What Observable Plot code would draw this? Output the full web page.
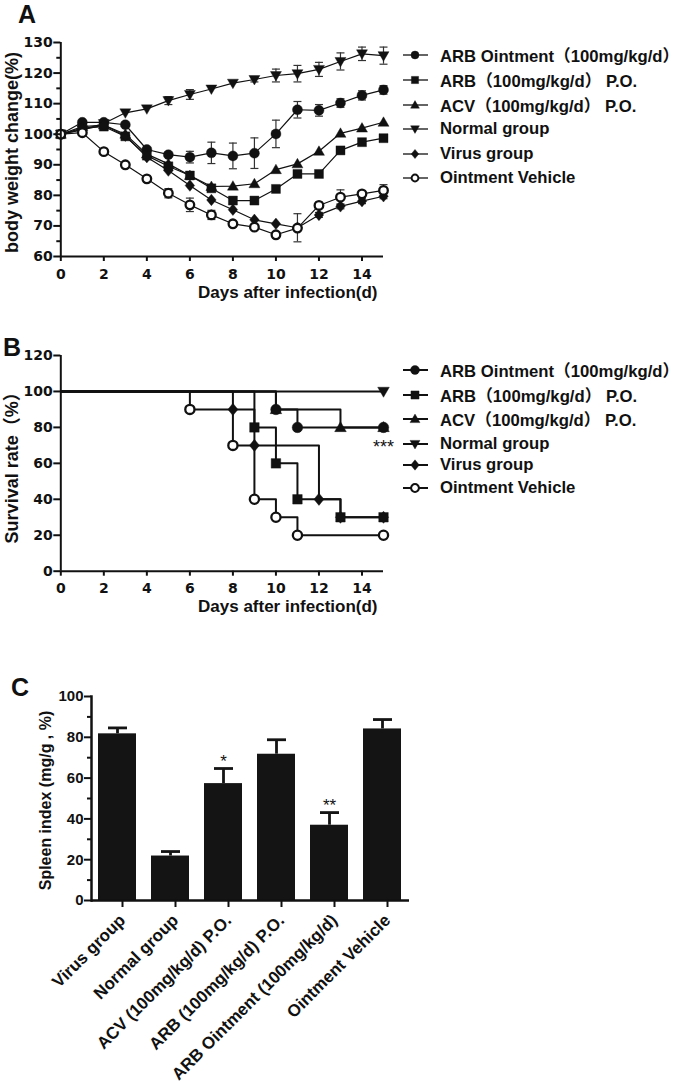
<!DOCTYPE html>
<html>
<head>
<meta charset="utf-8">
<script src="https://cdn.jsdelivr.net/npm/d3@7"></script>
<script src="https://cdn.jsdelivr.net/npm/@observablehq/plot@0.6"></script>
<style>
  html,body{margin:0;padding:0;background:#fff;}
  #root{position:relative;width:681px;height:1088px;overflow:hidden;background:#fff;
    font-family:"Liberation Sans",Arial,"Noto Sans CJK SC",sans-serif;font-weight:bold;color:#111;}
  .panel{position:absolute;left:0;}
  .letter{position:absolute;font-size:25px;line-height:25px;}
  .legrow{position:absolute;left:400px;width:281px;height:20px;display:flex;align-items:center;white-space:nowrap;font-size:16.7px;}
  .legrow svg{width:32px;height:20px;flex:none;margin-right:8px;}
</style>
</head>
<body>
<div id="root"></div>
<script>
// ---------------- DATA ----------------
const groupLabels = ["ARB Ointment（100mg/kg/d）", "ARB（100mg/kg/d） P.O.", "ACV（100mg/kg/d） P.O.", "Normal group", "Virus group", "Ointment Vehicle"];
const groupKeys = ["arbOint", "arbPO", "acv", "normal", "virus", "vehicle"];

// Panel A: body weight change (%)
const daysA = [0, 1, 2, 3, 4, 5, 6, 7, 8, 9, 10, 11, 12, 13, 14, 15];
const wArbOint = [100, 103.9, 103.9, 103.1, 95, 93.3, 92.5, 93.9, 92.9, 93.8, 100.1, 108, 107.8, 110.2, 112.7, 114.5];
const wArbPO   = [100, 102, 102.5, 99.3, 93, 89.5, 86.5, 82.3, 78.3, 78.3, 82.1, 87, 87, 94.7, 97.4, 98.7];
const wAcv     = [100, 102.5, 103, 100, 93.5, 90.3, 86.5, 82.9, 83, 83.8, 88.4, 90.3, 94.4, 100.3, 102, 103.9];
const wNormal  = [100, 101.5, 103.5, 107, 108.3, 111, 113, 114.8, 116.7, 117.9, 119.2, 119.8, 121.2, 123.8, 126.3, 125.7];
const wVirus   = [100, 101.5, 103, 99.5, 92.5, 88.1, 83.2, 78.5, 75.3, 72, 70.7, 69.4, 73.6, 76.4, 78.1, 79.7];
const wVehicle = [100, 100.5, 94.3, 90, 85.4, 80.7, 76.9, 73.6, 70.7, 69.6, 67.1, 69.3, 76.7, 79.4, 80.5, 81.6];
// SEM
const eArbOint = [0, 0, 0, 0, 0, 0.5, 1.9, 3.5, 4.2, 5.0, 4.5, 2.7, 1.9, 1.4, 1.5, 1.4];
const eArbPO   = [0, 0, 0, 0, 0, 0, 0, 0, 1, 0, 0, 1, 0, 1, 0.8, 0];
const eAcv     = [0, 0, 0, 0, 0, 0, 0, 0, 0, 0, 0, 0, 0, 0, 0, 0];
const eNormal  = [0, 0, 0, 0, 0, 1.3, 1.6, 0, 0, 0.8, 2.1, 2.7, 2.3, 2.8, 2.2, 2.8];
const eVirus   = [0, 0, 0, 0, 0, 0, 0, 0, 0, 0, 0, 4.6, 0.8, 0.8, 0.8, 0.8];
const eVehicle = [0, 0, 0, 0, 0, 1.5, 2.2, 1.5, 0.5, 0.5, 0.5, 0, 1, 2.4, 1, 1.9];

// Panel B: survival (%)
const sArbOintDays = [0, 10, 11, 15];        const sArbOintVals = [100, 90, 80, 80];
const sArbPODays   = [0, 9, 10, 11, 13, 15]; const sArbPOVals   = [100, 80, 60, 40, 30, 30];
const sAcvDays     = [0, 10, 13, 15];        const sAcvVals     = [100, 90, 80, 80];
const sNormalDays  = [0, 15];                const sNormalVals  = [100, 100];
const sVirusDays   = [0, 8, 9, 12, 13, 15];  const sVirusVals   = [100, 90, 70, 40, 30, 30];
const sVehicleDays = [0, 6, 8, 9, 10, 11, 15]; const sVehicleVals = [100, 90, 70, 40, 30, 20, 20];
const survNote = [{day: 15, v: 70, t: "***"}];

// Panel C: spleen index
const spleenCats = ["Virus group", "Normal group", "ACV (100mg/kg/d) P.O.", "ARB (100mg/kg/d) P.O.", "ARB Ointment (100mg/kg/d)", "Ointment Vehicle"];
const spleenVals = [81.7, 21.8, 57.3, 71.7, 36.9, 84.1];
const spleenErr  = [2.9, 2.2, 7.4, 7.1, 6.2, 4.6];
const spleenSig  = ["", "", "*", "", "**", ""];

// Ticks
const xTicksAB = [0, 2, 4, 6, 8, 10, 12, 14];
const yTicksA = [60, 70, 80, 90, 100, 110, 120, 130];
const yMinorA = [65, 75, 85, 95, 105, 115, 125];
const yTicksB = [0, 20, 40, 60, 80, 100, 120];
const yTicksC = [0, 20, 40, 60, 80, 100];
const yMinorC = [10, 30, 50, 70, 90];

// ---------------- STYLE ----------------
const ink = "#111";
const FONT = "Liberation Sans, Arial, Noto Sans CJK SC, sans-serif";
const TICKFONT = "DejaVu Sans, sans-serif";
const mk = fn => ({draw(c, size) { const r = Math.sqrt(size / Math.PI); fn(c, r); }});
const symCircle = mk((c, r) => { c.moveTo(r, 0); c.arc(0, 0, r, 0, 2 * Math.PI); });
const symSquare = mk((c, r) => { const h = r * 0.9; c.moveTo(-h, -h); c.lineTo(h, -h); c.lineTo(h, h); c.lineTo(-h, h); c.closePath(); });
const symTriUp = mk((c, r) => { c.moveTo(0, -1.1 * r); c.lineTo(1.1 * r, 0.8 * r); c.lineTo(-1.1 * r, 0.8 * r); c.closePath(); });
const symTriDown = mk((c, r) => { c.moveTo(0, 1.1 * r); c.lineTo(1.1 * r, -0.8 * r); c.lineTo(-1.1 * r, -0.8 * r); c.closePath(); });
const symDiamond = mk((c, r) => { c.moveTo(0, -1.15 * r); c.lineTo(0.95 * r, 0); c.lineTo(0, 1.15 * r); c.lineTo(-0.95 * r, 0); c.closePath(); });
const symHline = mk((c, r) => { c.moveTo(-r, 0); c.lineTo(r, 0); });
const symOf = {arbOint: symCircle, arbPO: symSquare, acv: symTriUp, normal: symTriDown, virus: symDiamond, vehicle: symCircle};
const drawOrder = ["normal", "arbOint", "acv", "arbPO", "virus", "vehicle"];

function markerMarks(rows, xf, yf, rBase) {
  return drawOrder.map(k => {
    const open = k === "vehicle";
    return Plot.dot(rows.filter(d => d.key === k), {
      x: xf, y: yf, symbol: symOf[k], r: open ? rBase - 0.7 : rBase,
      fill: open ? "#fff" : ink, stroke: ink, strokeWidth: open ? 2.3 : 0.4
    });
  });
}

const root = document.getElementById("root");
function place(node, top, width) {
  const div = document.createElement("div");
  div.className = "panel";
  div.style.top = top + "px";
  div.style.width = width + "px";
  div.appendChild(node);
  root.appendChild(div);
}
function letter(txt, left, top) {
  const d = document.createElement("div");
  d.className = "letter"; d.textContent = txt;
  d.style.left = left + "px"; d.style.top = top + "px";
  root.appendChild(d);
}
function legend(centers, lineW, r) {
  groupKeys.forEach((k, i) => {
    const row = document.createElement("div");
    row.className = "legrow";
    row.style.top = (centers[i] - 10) + "px";
    const svg = d3.create("svg").attr("viewBox", "0 0 32 20");
    svg.append("line").attr("x1", 3).attr("x2", 28).attr("y1", 10).attr("y2", 10)
      .attr("stroke", ink).attr("stroke-width", lineW);
    const open = k === "vehicle";
    svg.append("path").attr("transform", "translate(15,10)")
      .attr("d", d3.symbol(symOf[k], Math.PI * (open ? (r - 0.6) ** 2 : r * r))())
      .attr("fill", open ? "#fff" : ink).attr("stroke", ink).attr("stroke-width", open ? 2 : 0.4);
    row.appendChild(svg.node());
    const span = document.createElement("span");
    span.textContent = groupLabels[i];
    row.appendChild(span);
    root.appendChild(row);
  });
}
const svgStyle = {fontFamily: FONT, fontWeight: "bold", color: ink, background: "transparent", overflow: "visible", maxWidth: "none"};

// ---------------- PANEL A ----------------
const wSeries = [wArbOint, wArbPO, wAcv, wNormal, wVirus, wVehicle];
const eSeries = [eArbOint, eArbPO, eAcv, eNormal, eVirus, eVehicle];
const rowsA = groupKeys.flatMap((k, j) => daysA.map((d, i) => ({key: k, day: d, w: wSeries[j][i], e: eSeries[j][i]})));
const errRowsA = rowsA.filter(d => d.e > 0);

const plotA = Plot.plot({
  width: 400, height: 315,
  marginTop: 42, marginBottom: 59, marginLeft: 60.3, marginRight: 17,
  style: svgStyle,
  x: {domain: [0, 15], label: null},
  y: {domain: [60, 130], label: null},
  marks: [
    Plot.line(rowsA, {x: "day", y: "w", z: "key", stroke: ink, strokeWidth: 1.2}),
    Plot.ruleX(errRowsA, {x: "day", y1: d => d.w - d.e, y2: d => d.w + d.e, stroke: "#333", strokeWidth: 1.2}),
    Plot.dot(errRowsA, {x: "day", y: d => d.w + d.e, symbol: symHline, r: 4, stroke: "#333", strokeWidth: 1.2, fill: "none"}),
    Plot.dot(errRowsA, {x: "day", y: d => d.w - d.e, symbol: symHline, r: 4, stroke: "#333", strokeWidth: 1.2, fill: "none"}),
    ...markerMarks(rowsA, "day", "w", 5),
    Plot.ruleX([0], {stroke: ink, strokeWidth: 2}),
    Plot.ruleY([60], {stroke: ink, strokeWidth: 2}),
    Plot.axisY({ticks: yTicksA, tickSize: 7, tickPadding: 1, fontFamily: TICKFONT, fontSize: 14, strokeWidth: 2, label: null}),
    Plot.axisY({ticks: yMinorA, tickSize: 4, tickFormat: () => "", strokeWidth: 2, label: null}),
    Plot.axisX({ticks: xTicksAB, tickSize: 5, tickPadding: 8, fontFamily: TICKFONT, fontSize: 14, strokeWidth: 2, label: null}),
    Plot.text(["Days after infection(d)"], {frameAnchor: "bottom-right", text: d => d, textAnchor: "end", dx: -6, dy: 41, fontSize: 17}),
    Plot.text(["body weight change(%)"], {frameAnchor: "left", text: d => d, textAnchor: "middle", rotate: -90, dx: -48.3, dy: 3, fontSize: 18})
  ]
});
place(plotA, 0, 400);

// ---------------- PANEL B ----------------
const sDays = [sArbOintDays, sArbPODays, sAcvDays, sNormalDays, sVirusDays, sVehicleDays];
const sVals = [sArbOintVals, sArbPOVals, sAcvVals, sNormalVals, sVirusVals, sVehicleVals];
const rowsB = groupKeys.flatMap((k, j) => sDays[j].map((d, i) => ({key: k, day: d, v: sVals[j][i], i})));
const markRowsB = rowsB.filter(d => d.i > 0);

const plotB = Plot.plot({
  width: 400, height: 300,
  marginTop: 25, marginBottom: 59.3, marginLeft: 60.3, marginRight: 17,
  style: svgStyle,
  x: {domain: [0, 15], label: null},
  y: {domain: [0, 120], label: null},
  marks: [
    Plot.line(rowsB, {x: "day", y: "v", z: "key", curve: "step-after", stroke: ink, strokeWidth: 2}),
    ...markerMarks(markRowsB, "day", "v", 5.3),
    Plot.text(survNote, {x: "day", y: "v", text: "t", dy: 1.4, fontSize: 18, fontWeight: "normal"}),
    Plot.ruleX([0], {stroke: ink, strokeWidth: 2}),
    Plot.ruleY([0], {stroke: ink, strokeWidth: 2}),
    Plot.axisY({ticks: yTicksB, tickSize: 7, tickPadding: 1, fontFamily: TICKFONT, fontSize: 14, strokeWidth: 2, label: null}),
    Plot.axisX({ticks: xTicksAB, tickSize: 5, tickPadding: 7, fontFamily: TICKFONT, fontSize: 14, strokeWidth: 2, label: null}),
    Plot.text(["Days after infection(d)"], {frameAnchor: "bottom-right", text: d => d, textAnchor: "end", dx: -6, dy: 41, fontSize: 17}),
    Plot.text(["Survival rate（%）"], {frameAnchor: "left", text: d => d, textAnchor: "middle", rotate: -90, dx: -48.3, dy: 0, fontSize: 18})
  ]
});
place(plotB, 330, 400);

// ---------------- PANEL C ----------------
const rowsC = spleenCats.map((c, i) => ({cat: c, v: spleenVals[i], e: spleenErr[i], s: spleenSig[i]}));
const barInk = "#141414";
const plotC = Plot.plot({
  width: 420, height: 418,
  marginTop: 26, marginBottom: 188, marginLeft: 91, marginRight: 11,
  style: svgStyle,
  x: {type: "band", domain: spleenCats, paddingInner: 0.283, paddingOuter: 0.1415, label: null},
  y: {domain: [0, 100], label: null},
  marks: [
    Plot.barY(rowsC, {x: "cat", y: "v", fill: barInk}),
    Plot.ruleX(rowsC, {x: "cat", y1: "v", y2: d => d.v + d.e, stroke: barInk, strokeWidth: 2.8}),
    Plot.dot(rowsC, {x: "cat", y: d => d.v + d.e, symbol: symHline, r: 9.5, stroke: barInk, strokeWidth: 2.8, fill: "none"}),
    Plot.text(rowsC.filter(d => d.s), {x: "cat", y: d => d.v + d.e, text: "s", dy: -6.6, fontSize: 17, fontWeight: "normal"}),
    Plot.ruleY([0], {stroke: ink, strokeWidth: 2.5}),
    Plot.frame({anchor: "left", stroke: ink, strokeWidth: 2.5}),
    Plot.axisY({ticks: yTicksC, tickSize: 7, tickPadding: 1, fontSize: 15, strokeWidth: 2, label: null}),
    Plot.axisY({ticks: yMinorC, tickSize: 4, tickFormat: () => "", strokeWidth: 2, label: null}),
    Plot.axisX({tickRotate: -45, tickSize: 7, tickPadding: 10, dx: 5, fontSize: 17, strokeWidth: 2, label: null}),
    Plot.text(["Spleen index (mg/g , %)"], {frameAnchor: "left", text: d => d, textAnchor: "middle", rotate: -90, dx: -46, dy: 2, fontSize: 16})
  ]
});
place(plotC, 670, 420);

// ---------------- LETTERS & LEGENDS ----------------
letter("A", 18, 2);
letter("B", 3, 335);
letter("C", 11, 675);
legend([55, 80, 105, 129, 154, 178], 1.3, 4);
legend([370, 395, 419, 444, 465, 488], 2, 4.5);
</script>
</body>
</html>
